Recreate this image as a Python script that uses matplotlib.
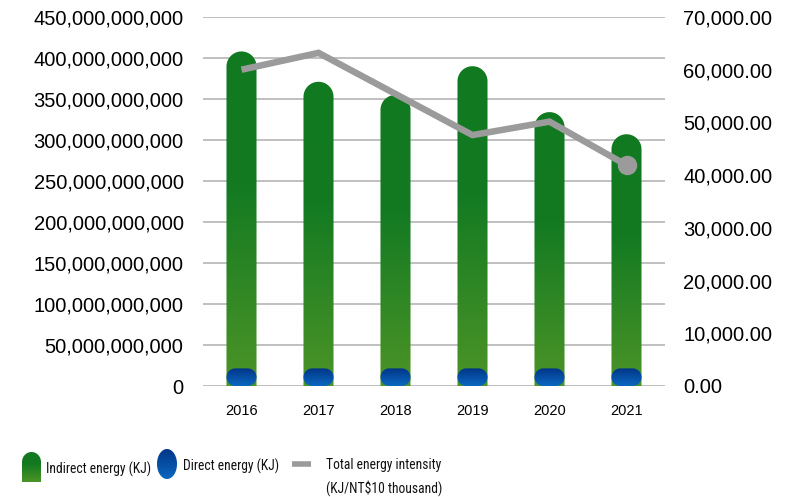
import numpy as np
import matplotlib
matplotlib.use("Agg")
import matplotlib.pyplot as plt
from matplotlib.colors import LinearSegmentedColormap
from matplotlib.patches import Polygon
from matplotlib.ticker import FuncFormatter

plt.rcParams['font.family'] = ['Liberation Sans', 'DejaVu Sans']

# Data
years = ['2016', '2017', '2018', '2019', '2020', '2021']
indirect = [408e9, 371e9, 355e9, 390e9, 334e9, 307e9]     # KJ
direct = [21.5e9, 21.5e9, 21.5e9, 21.5e9, 21.5e9, 21.5e9]  # KJ
intensity = [60000, 63200, 55400, 47600, 50150, 41900]     # KJ/NT$10 thousand

green_cmap = LinearSegmentedColormap.from_list(
    'grn', [(0, '#4c9427'), (0.6, '#137a22'), (1, '#117920')])
blue_cmap = LinearSegmentedColormap.from_list(
    'blu', [(0, '#0a68c0'), (1, '#023587')])

fig = plt.figure(figsize=(7.99, 4.97), dpi=100)
ax = fig.add_axes([203/799, 1 - 386/497, 462/799, 369/497])
x = np.arange(len(years))
ax.set_xlim(-0.5, len(years) - 0.5)
ax.set_ylim(0, 450e9)
ax.set_yticks(np.arange(0, 450e9 + 1, 50e9))
ax.yaxis.set_major_formatter(FuncFormatter(lambda v, p: f'{v:,.0f}'))
ax.set_xticks(x)
ax.set_xticklabels(years, fontsize=10.5)
ax.tick_params(axis='y', length=0, pad=14, labelsize=14.5)
ax.tick_params(axis='x', length=0, pad=13)
for s in ax.spines.values():
    s.set_visible(False)
ax.grid(axis='y', color='#b5b5b5', linewidth=1.2)
ax.set_axisbelow(True)

# data units per pixel, so the rounded ends stay circular on screen
p0 = ax.transData.transform((0, 0))
p1 = ax.transData.transform((1, 1e9))
px_x = p1[0] - p0[0]
px_y = (p1[1] - p0[1]) / 1e9


def gradient_fill(axis, poly, x0, x1, y0, y1, cmap, z):
    axis.add_patch(poly)
    poly.set_visible(False)
    grad = np.linspace(0, 1, 256).reshape(-1, 1)
    im = axis.imshow(grad, cmap=cmap, origin='lower', aspect='auto',
                     extent=(x0, x1, y0, y1), zorder=z, interpolation='bilinear')
    im.set_clip_path(poly)


bw = 0.39
bars = ax.bar(x, indirect, width=bw)
t = np.linspace(np.pi, 0, 60)
for b in bars:
    b.set_visible(False)
    x0, w, h = b.get_x(), b.get_width(), b.get_height()
    rx = w / 2
    ry = rx * px_x / px_y
    xc = x0 + rx
    pts = [(x0, 0)] + list(zip(xc + rx * np.cos(t), h - ry + ry * np.sin(t))) + [(x0 + w, 0)]
    gradient_fill(ax, Polygon(pts, closed=True, transform=ax.transData),
                  x0, x0 + w, 0, h, green_cmap, 2)

# direct energy as short pill shapes at the base of each bar
dbars = ax.bar(x, direct, width=bw)
for b in dbars:
    b.set_visible(False)
    x0, w, h = b.get_x(), b.get_width(), b.get_height()
    r = h / 2
    rxd = r * px_y / px_x
    q = np.linspace(0, np.pi / 2, 20)
    pts = []
    pts += list(zip(x0 + w - rxd + rxd * np.cos(q - np.pi / 2), r + r * np.sin(q - np.pi / 2)))
    pts += list(zip(x0 + w - rxd + rxd * np.cos(q), r + r * np.sin(q)))
    pts += list(zip(x0 + rxd + rxd * np.cos(q + np.pi / 2), r + r * np.sin(q + np.pi / 2)))
    pts += list(zip(x0 + rxd + rxd * np.cos(q + np.pi), r + r * np.sin(q + np.pi)))
    gradient_fill(ax, Polygon(pts, closed=True, transform=ax.transData),
                  x0, x0 + w, 0, h, blue_cmap, 3)

# Intensity line on the right axis
ax2 = ax.twinx()
ax2.set_ylim(0, 70000)
ax2.set_yticks(np.arange(0, 70001, 10000))
ax2.yaxis.set_major_formatter(FuncFormatter(lambda v, p: f'{v:,.2f}'))
ax2.tick_params(axis='y', length=0, pad=13, labelsize=14.5)
for s in ax2.spines.values():
    s.set_visible(False)
ax2.plot(x, intensity, color='#9b9b9b', linewidth=4.7, solid_capstyle='butt',
         solid_joinstyle='miter', marker='o', markersize=14, markevery=[5],
         markeredgewidth=0)

# Legend drawn in pixel coordinates
lax = fig.add_axes([0, 0, 1, 1], zorder=5)
lax.set_xlim(0, 799)
lax.set_ylim(497, 0)
lax.axis('off')
lax.patch.set_visible(False)

t = np.linspace(np.pi, 0, 40)
dome = [(22, 482)] + list(zip(31.5 + 9.5 * np.cos(t), 462 - 10 * np.sin(t))) + [(41, 482)]
gradient_fill(lax, Polygon(dome, closed=True, transform=lax.transData),
              22, 41, 482, 452, green_cmap, 6)
tt = np.linspace(0, 2 * np.pi, 80)
ell = list(zip(167 + 10 * np.cos(tt), 464 + 15 * np.sin(tt)))
gradient_fill(lax, Polygon(ell, closed=True, transform=lax.transData),
              157, 177, 479, 449, blue_cmap, 6)
lax.plot([292, 311], [464, 464], color='#9b9b9b', linewidth=4, solid_capstyle='butt')

leg_font = dict(fontsize=9.8, family=['Roboto Condensed', 'Liberation Sans'],
                color='#111111', va='center', ha='left')
lax.text(46, 469, 'Indirect energy (KJ)', **leg_font)
lax.text(183, 466, 'Direct energy (KJ)', **leg_font)
lax.text(326, 465, 'Total energy intensity', **leg_font)
lax.text(326, 488, '(KJ/NT$10 thousand)', **leg_font)

fig.savefig('out.png', dpi=100)
